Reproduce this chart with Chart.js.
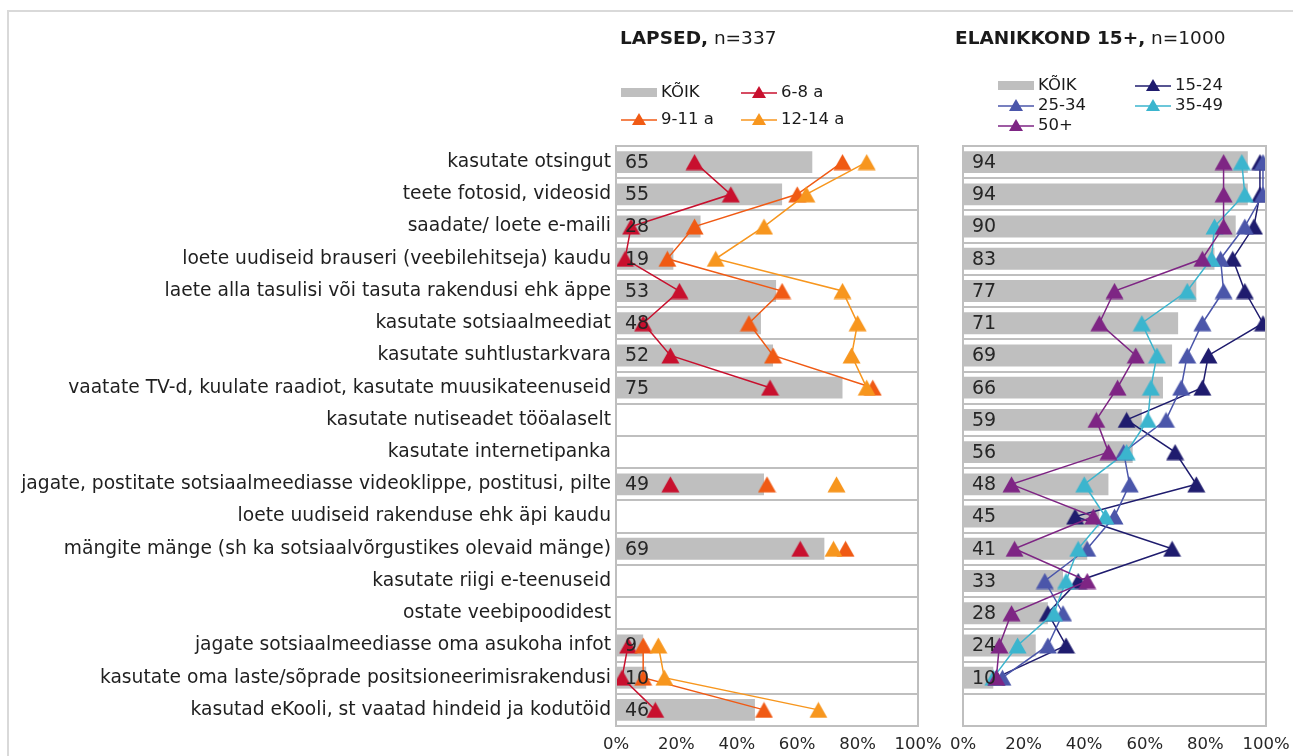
<!DOCTYPE html>
<html>
<head>
<meta charset="utf-8">
<script src="https://cdn.jsdelivr.net/npm/chart.js@4/dist/chart.umd.min.js"></script>
<style>
  body { margin: 0; background: #fff; font-family: "DejaVu Sans", sans-serif; color: #1a1a1a; }
  #wrap { position: relative; width: 1293px; height: 756px; overflow: hidden; }
  #frame { position: absolute; left: 7px; top: 10px; width: 1300px; height: 760px;
           border-top: 2px solid #d9d9d9; border-left: 2px solid #d9d9d9; }
  canvas { position: absolute; left: 0; top: 0; }
  .title { position: absolute; font-size: 18.5px; white-space: nowrap; }
  .title b { font-weight: bold; }
  .leg { position: absolute; font-size: 16.5px; white-space: nowrap; display: flex; align-items: center; }
  .leg svg { margin-right: 4px; }
</style>
</head>
<body>
<div id="wrap">
  <div id="frame"></div>
  <canvas id="left" width="1293" height="756"></canvas>
  <canvas id="right" width="1293" height="756"></canvas>

  <div class="title" style="left:620px; top:27px;"><b>LAPSED,</b> n=337</div>
  <div class="title" style="left:955px; top:27px;"><b>ELANIKKOND 15+,</b> n=1000</div>
  <div id="legLeft"></div>
  <div id="legRight"></div>
</div>
<script>
// kategooriad (ülevalt alla)
const categories = [
  'kasutate otsingut',
  'teete fotosid, videosid',
  'saadate/ loete e-maili',
  'loete uudiseid brauseri (veebilehitseja) kaudu',
  'laete alla tasulisi või tasuta rakendusi ehk äppe',
  'kasutate sotsiaalmeediat',
  'kasutate suhtlustarkvara',
  'vaatate TV-d, kuulate raadiot, kasutate muusikateenuseid',
  'kasutate nutiseadet tööalaselt',
  'kasutate internetipanka',
  'jagate, postitate sotsiaalmeediasse videoklippe, postitusi, pilte',
  'loete uudiseid rakenduse ehk äpi kaudu',
  'mängite mänge (sh ka sotsiaalvõrgustikes olevaid mänge)',
  'kasutate riigi e-teenuseid',
  'ostate veebipoodidest',
  'jagate sotsiaalmeediasse oma asukoha infot',
  'kasutate oma laste/sõprade positsioneerimisrakendusi',
  'kasutad eKooli, st vaatad hindeid ja kodutöid'
];

// LAPSED, n=337
const kidsAll   = [65, 55, 28, 19, 53, 48, 52, 75, null, null, 49, null, 69, null, null, 9, 10, 46];
const kids6_8   = [26, 38, 5, 3, 21, 9, 18, 51, null, null, 18, null, 61, null, null, 4, 2, 13];
const kids9_11  = [75, 60, 26, 17, 55, 44, 52, 85, null, null, 50, null, 76, null, null, 9, 9, 49];
const kids12_14 = [83, 63, 49, 33, 75, 80, 78, 83, null, null, 73, null, 72, null, null, 14, 16, 67];

// ELANIKKOND 15+, n=1000
const popAll  = [94, 94, 90, 83, 77, 71, 69, 66, 59, 56, 48, 45, 41, 33, 28, 24, 10, null];
const pop15_24 = [98, 98, 96, 89, 93, 99, 81, 79, 54, 70, 77, 37, 69, 38, 28, 34, 11, null];
const pop25_34 = [99, 99, 93, 85, 86, 79, 74, 72, 67, 53, 55, 50, 41, 27, 33, 28, 13, null];
const pop35_49 = [92, 93, 83, 82, 74, 59, 64, 62, 61, 54, 40, 47, 38, 34, 30, 18, 10, null];
const pop50    = [86, 86, 86, 79, 50, 45, 57, 51, 44, 48, 16, 43, 17, 41, 16, 12, 11, null];

const xTicks = [0, 20, 40, 60, 80, 100];

const leftSeries = [
  { label: '6-8 a',   data: kids6_8,   color: '#C8102E' },
  { label: '9-11 a',  data: kids9_11,  color: '#F05A14' },
  { label: '12-14 a', data: kids12_14, color: '#F7961E' }
];
const rightSeries = [
  { label: '15-24', data: pop15_24, color: '#1F1C6E' },
  { label: '25-34', data: pop25_34, color: '#4B56AA' },
  { label: '35-49', data: pop35_49, color: '#3BB5CE' },
  { label: '50+',   data: pop50,    color: '#7E2584' }
];

const BAR = '#BFBFBF';
const GRID = '#BFBFBF';
const FONT = 'DejaVu Sans';

// kolmnurk, mille ümbritsev kast on punkti keskel (nagu Excelis)
function triMarker(color) {
  const c = document.createElement('canvas');
  c.width = 19; c.height = 17;
  const g = c.getContext('2d');
  g.fillStyle = color;
  g.beginPath();
  g.moveTo(9.5, 0.5);
  g.lineTo(18.5, 16.5);
  g.lineTo(0.5, 16.5);
  g.closePath();
  g.fill();
  return c;
}

// väärtuste sildid ribade sees + raam ümber joonisala
const barLabels = {
  id: 'barLabels',
  afterDatasetsDraw(chart) {
    const ctx = chart.ctx;
    const a = chart.chartArea;
    ctx.save();
    ctx.strokeStyle = GRID;
    ctx.lineWidth = 2;
    ctx.strokeRect(a.left, a.top, a.right - a.left, a.bottom - a.top);
    const last = chart.data.datasets.length - 1;
    const meta = chart.getDatasetMeta(last);
    const vals = chart.data.datasets[last].data;
    const x0 = chart.scales.x.getPixelForValue(0);
    ctx.font = '19px ' + FONT;
    ctx.fillStyle = '#262626';
    ctx.textAlign = 'left';
    ctx.textBaseline = 'middle';
    meta.data.forEach((bar, i) => {
      if (vals[i] == null) return;
      ctx.fillText(String(vals[i]), x0 + 9, bar.y + 1);
    });
    ctx.restore();
  }
};

function makeChart(el, allData, series, showLabels, padLeft, padRight) {
  const datasets = series.map((s, i) => ({
    type: 'line',
    label: s.label,
    data: s.data,
    borderColor: s.color,
    backgroundColor: s.color,
    borderWidth: 1.5,
    pointStyle: triMarker(s.color),
    spanGaps: false,
    order: series.length - i
  }));
  datasets.push({
    type: 'bar',
    label: 'KÕIK',
    data: allData,
    backgroundColor: BAR,
    barPercentage: 0.68,
    categoryPercentage: 1,
    order: 10
  });
  return new Chart(document.getElementById(el), {
    type: 'bar',
    data: { labels: categories, datasets: datasets },
    options: {
      indexAxis: 'y',
      responsive: false,
      animation: false,
      layout: { padding: { left: padLeft, right: padRight, top: 146, bottom: 0 } },
      plugins: { legend: { display: false }, tooltip: { enabled: false } },
      scales: {
        x: {
          min: 0, max: 100,
          afterBuildTicks: (s) => { s.ticks = xTicks.map(v => ({ value: v })); },
          grid: { display: false, drawTicks: false },
          border: { display: false },
          ticks: { callback: v => v + '%', color: '#262626', font: { family: FONT, size: 16.5 }, padding: 9, maxRotation: 0 },
          afterFit: (s) => { s.height = 30; s.paddingLeft = 0; s.paddingRight = 0; }
        },
        y: {
          grid: { color: GRID, lineWidth: 2, drawTicks: false, offset: true },
          border: { display: false },
          ticks: { display: showLabels, color: '#1f1f1f', font: { family: FONT, size: 18.7 }, padding: 5, autoSkip: false },
          afterFit: (s) => { s.width = showLabels ? 616 : 0; }
        }
      }
    },
    plugins: [barLabels]
  });
}

makeChart('left', kidsAll, leftSeries, true, 0, 1293 - 918);
makeChart('right', popAll, rightSeries, false, 963, 1293 - 1266);

// legendid
function tri(color) {
  return '<svg width="36" height="14"><line x1="0" y1="8" x2="36" y2="8" stroke="' + color +
    '" stroke-width="1.5"/><polygon points="18,1 25,13 11,13" fill="' + color + '"/></svg>';
}
function box() {
  return '<svg width="36" height="14"><rect x="0" y="3" width="36" height="9" fill="' + BAR + '"/></svg>';
}
function legItem(x, y, sym, text) {
  return '<div class="leg" style="left:' + x + 'px; top:' + y + 'px;">' + sym + '<span>' + text + '</span></div>';
}
document.getElementById('legLeft').innerHTML =
  legItem(621, 82, box(), 'KÕIK') +
  legItem(741, 82, tri(leftSeries[0].color), leftSeries[0].label) +
  legItem(621, 109, tri(leftSeries[1].color), leftSeries[1].label) +
  legItem(741, 109, tri(leftSeries[2].color), leftSeries[2].label);
document.getElementById('legRight').innerHTML =
  legItem(998, 75, box(), 'KÕIK') +
  legItem(1135, 75, tri(rightSeries[0].color), rightSeries[0].label) +
  legItem(998, 95, tri(rightSeries[1].color), rightSeries[1].label) +
  legItem(1135, 95, tri(rightSeries[2].color), rightSeries[2].label) +
  legItem(998, 115, tri(rightSeries[3].color), rightSeries[3].label);
</script>
</body>
</html>
